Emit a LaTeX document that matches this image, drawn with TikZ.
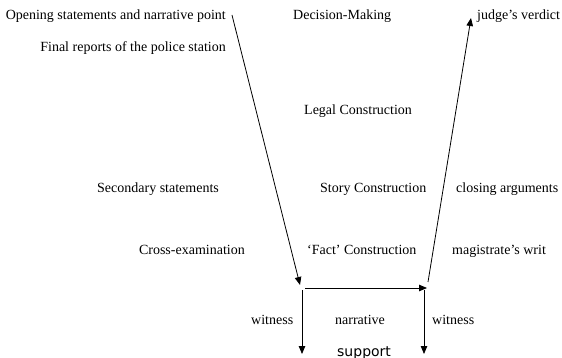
\documentclass[tikz,border=0pt]{standalone}
\usepackage{fontspec}
\setmainfont{Liberation Serif}
\newfontfamily\supfont{DejaVu Sans}
\usetikzlibrary{arrows.meta,positioning}

\tikzset{
	lbl/.style = {anchor=base west, inner sep=0pt, font=\fontsize{14}{16}\selectfont},
	lblr/.style = {lbl, anchor=base east},
	flow/.style = {line width=0.8pt, -{Triangle[length=8pt,width=6.5pt]}}
}

\begin{document}
\begin{tikzpicture}[x=1pt, y=-1pt]
	\useasboundingbox (0,0) rectangle (562,358);
	
	% left column
	\node[lblr] (opening) at (226,20) {Opening statements and narrative point};
	\node[lblr] (reports) at (226,52) {Final reports of the police station};
	\node[lbl] (secondary) at (97,193) {Secondary statements};
	\node[lblr] (cross) at (245,254) {Cross-examination};
	
	% middle column
	\node[lbl] (decision) at (293,20) {Decision-Making};
	\node[lbl] (legal) at (304,115) {Legal Construction};
	\node[lbl] (story) at (320,193) {Story Construction};
	\node[lbl] (fact) at (307,254) {`Fact' Construction};
	
	% right column
	\node[lbl] (verdict) at (477,20) {judge's verdict};
	\node[lbl] (closing) at (456,193) {closing arguments};
	\node[lbl] (writ) at (452,254) {magistrate's writ};
	
	% bottom
	\node[lbl] (witnessL) at (251,324) {witness};
	\node[lbl] (narrative) at (335,324) {narrative};
	\node[lbl] (witnessR) at (432,324) {witness};
	\node[lbl, font=\supfont\fontsize{14}{16}\selectfont] (support) at (337,356) {support};
	
	\coordinate (vtop) at (232,15);
	\coordinate (vleft) at (300,285);
	\coordinate (hleft) at (305,288);
	\coordinate (hright) at (427,288);
	\coordinate (vright) at (428,282);
	\coordinate (vend) at (471,18);
	\coordinate (dlA) at (302,290);
	\coordinate (dlB) at (302,354);
	\coordinate (drA) at (424,290);
	\coordinate (drB) at (424,354);
	
	\draw[flow] (vtop) -- (vleft);
	\draw[flow] (hleft) -- (hright);
	\draw[flow] (vright) -- (vend);
	\draw[flow] (dlA) -- (dlB);
	\draw[flow] (drA) -- (drB);
	
\end{tikzpicture}
\end{document}
